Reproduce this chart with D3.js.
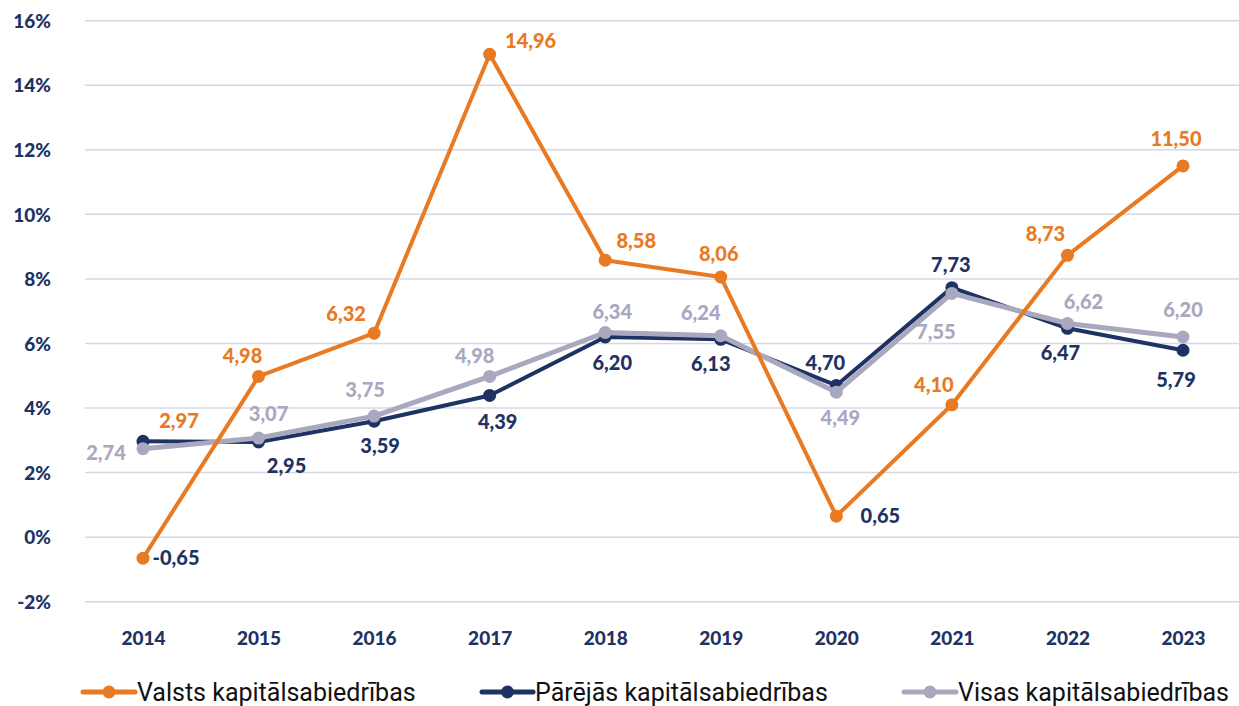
<!DOCTYPE html>
<html><head><meta charset="utf-8">
<script src="https://cdn.jsdelivr.net/npm/d3@7"></script>
<style>body{margin:0;background:#fff;} svg{display:block;}</style>
</head><body>
<svg id="c" width="1239" height="706"></svg>
<script>
const years = ["2014","2015","2016","2017","2018","2019","2020","2021","2022","2023"];
const valsts = [-0.65, 4.98, 6.32, 14.96, 8.58, 8.06, 0.65, 4.10, 8.73, 11.50];
const parejas = [2.97, 2.95, 3.59, 4.39, 6.20, 6.13, 4.70, 7.73, 6.47, 5.79];
const visas = [2.74, 3.07, 3.75, 4.98, 6.34, 6.24, 4.49, 7.55, 6.62, 6.20];
const yTicks = [-2, 0, 2, 4, 6, 8, 10, 12, 14, 16];
const seriesNames = ["Valsts kapitālsabiedrības", "Pārējās kapitālsabiedrības", "Visas kapitālsabiedrības"];

const C = {orange:"#E87A24", navy:"#1E3263", gray:"#A9A8BF", grid:"#D8D8E0"};
const series = [
  {name: seriesNames[0], values: valsts, color: C.orange, width: 4},
  {name: seriesNames[1], values: parejas, color: C.navy, width: 4},
  {name: seriesNames[2], values: visas, color: C.gray, width: 5}
];
// label placement (offsets from point) and colours
const labelPos = [
  [[33,0],[-16,-20],[-28,-19],[41,-13],[31,-19],[-2,-23],[44,0],[-18,-20],[-22,-21],[-7,-27]],
  [[36,-20],[28,24],[6,25],[8,27],[7,26],[-10,25],[-11,-22],[-1,-23],[-7,25],[-7,30]],
  [[-37,4],[10,-24],[-9,-26],[-15,-20],[7,-21],[-20,-23],[4,26],[-16,39],[16,-21],[0,-27]]
];
const labelColors = [
  [C.navy,C.orange,C.orange,C.orange,C.orange,C.orange,C.navy,C.orange,C.orange,C.orange],
  [C.orange,C.navy,C.navy,C.navy,C.navy,C.navy,C.navy,C.navy,C.navy,C.navy],
  [C.gray,C.gray,C.gray,C.gray,C.gray,C.gray,C.gray,C.gray,C.gray,C.gray]
];

const svg = d3.select("#c");
const x = d3.scalePoint().domain(years).range([143, 1183]);
const y = d3.scaleLinear().domain([-2, 16]).range([601.7, 20.7]);

// gridlines
svg.append("g").selectAll("line").data(yTicks).join("line")
  .attr("x1", 85).attr("x2", 1239)
  .attr("y1", d => y(d)).attr("y2", d => y(d))
  .attr("stroke", C.grid).attr("stroke-width", 1.5);

// y axis labels
const yAxis = svg.append("g").attr("transform", "translate(51,0)")
  .call(d3.axisLeft(y).tickValues(yTicks).tickSize(0).tickPadding(0).tickFormat(d => d + "%"));
yAxis.select(".domain").remove();
yAxis.selectAll("text").attr("font-family", "Lato").attr("font-weight", 900)
  .attr("font-size", 19).attr("fill", C.navy).attr("dy", "0.35em");

// x axis labels
const xAxis = svg.append("g").attr("transform", "translate(0,638)")
  .call(d3.axisBottom(x).tickSize(0).tickPadding(0));
xAxis.select(".domain").remove();
xAxis.selectAll("text").attr("font-family", "Lato").attr("font-weight", 900)
  .attr("font-size", 19).attr("fill", C.navy).attr("dy", "0.35em");

const line = d3.line().x((d, i) => x(years[i])).y(d => y(d));

const drawOrder = [1, 2, 0];
drawOrder.forEach(si => {
  const s = series[si];
  const g = svg.append("g");
  g.append("path").datum(s.values).attr("d", line)
    .attr("fill", "none").attr("stroke", s.color).attr("stroke-width", s.width)
    .attr("stroke-linejoin", "round");
  g.selectAll("circle").data(s.values).join("circle")
    .attr("cx", (d, i) => x(years[i])).attr("cy", d => y(d))
    .attr("r", 6.5).attr("fill", s.color);
});

// data labels
series.forEach((s, si) => {
  svg.append("g").selectAll("text").data(s.values).join("text")
    .attr("x", (d, i) => x(years[i]) + labelPos[si][i][0])
    .attr("y", (d, i) => y(d) + labelPos[si][i][1])
    .attr("dy", "0.35em").attr("text-anchor", "middle")
    .attr("font-family", "Lato").attr("font-weight", 900).attr("font-size", 20)
    .attr("fill", (d, i) => labelColors[si][i])
    .text(d => d3.format(".2f")(d).replace(".", ",").replace("\u2212", "-"));
});

// legend
const legendX = [83, 482, 904];
const legendLen = [52, 51, 52];
series.forEach((s, si) => {
  const g = svg.append("g").attr("transform", `translate(${legendX[si]},692)`);
  g.append("line").attr("x1", 0).attr("x2", legendLen[si]).attr("y1", 0).attr("y2", 0)
    .attr("stroke", s.color).attr("stroke-width", 5).attr("stroke-linecap", "round");
  g.append("circle").attr("cx", legendLen[si] / 2).attr("cy", 0).attr("r", 6.5).attr("fill", s.color);
  g.append("text").attr("x", legendLen[si] + 2).attr("y", 0).attr("dy", "0.35em")
    .attr("font-family", "Roboto").attr("font-size", 25).attr("fill", "#111")
    .text(s.name);
});
</script>
</body></html>
